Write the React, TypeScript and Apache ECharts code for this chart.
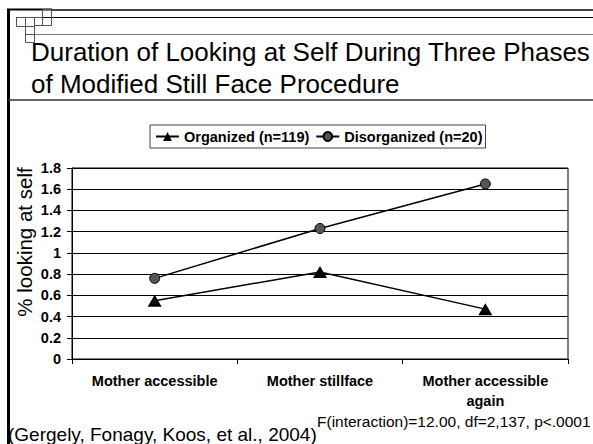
import React, { useEffect, useRef } from "react";
import * as echarts from "echarts";

const categories = ["Mother accessible", "Mother stillface", "Mother accessible\nagain"];
const organized = [0.55, 0.82, 0.47];
const disorganized = [0.76, 1.23, 1.65];
const seriesNames = ["Organized (n=119)", "Disorganized (n=20)"];
const titleLines = [
  "Duration of Looking at Self During Three Phases",
  "of Modified Still Face Procedure",
];
const yTitle = "% looking at self";
const citation = "(Gergely, Fonagy, Koos, et al., 2004)";
const stats = "F(interaction)=12.00, df=2,137, p<.0001";

const FONT = "'Liberation Sans', Arial, Helvetica, sans-serif";

export default function App() {
  const ref = useRef<HTMLDivElement>(null);
  useEffect(() => {
    document.body.style.margin = "0";
    const chart = echarts.init(ref.current!, null, { renderer: "svg" });
    const deco = { stroke: "#555", fill: "none", lineWidth: 1 };
    chart.setOption({
      animation: false,
      backgroundColor: "#fff",
      textStyle: { fontFamily: FONT },
      legend: {
        left: 150,
        top: 125,
        padding: [4, 3, 4, 5],
        itemGap: 6,
        itemWidth: 23,
        itemHeight: 11,
        borderColor: "#444",
        borderWidth: 1,
        textStyle: { fontFamily: FONT, fontWeight: "bold", fontSize: 14.5, color: "#000" },
        data: seriesNames,
      },
      grid: {
        left: 72,
        top: 168,
        width: 496,
        height: 191,
        show: true,
        borderColor: "#000",
        borderWidth: 1,
      },
      xAxis: {
        type: "category",
        data: categories,
        boundaryGap: true,
        axisLine: { lineStyle: { color: "#000", width: 1 } },
        axisTick: { show: true, length: 5, lineStyle: { color: "#000" } },
        axisLabel: {
          color: "#000",
          fontWeight: "bold",
          fontSize: 14.5,
          fontFamily: FONT,
          margin: 12,
          lineHeight: 20,
          interval: 0,
        },
      },
      yAxis: {
        type: "value",
        min: 0,
        max: 1.8,
        interval: 0.2,
        axisLine: { show: true, lineStyle: { color: "#000" } },
        axisTick: { show: true, length: 5, lineStyle: { color: "#000" } },
        splitLine: { lineStyle: { color: "#000", width: 1 } },
        axisLabel: {
          color: "#000",
          fontWeight: "bold",
          fontSize: 14.5,
          fontFamily: FONT,
          margin: 11,
          formatter: (v: number) => String(Math.round(v * 10) / 10),
        },
      },
      series: [
        {
          name: seriesNames[0],
          type: "line",
          data: organized,
          symbol: "triangle",
          symbolSize: [14, 12],
          itemStyle: { color: "#000" },
          lineStyle: { color: "#000", width: 1.5 },
        },
        {
          name: seriesNames[1],
          type: "line",
          data: disorganized,
          symbol: "circle",
          symbolSize: 10,
          itemStyle: { color: "#555", borderColor: "#000", borderWidth: 1 },
          lineStyle: { color: "#000", width: 1.5 },
        },
      ],
      graphic: [
        { type: "line", shape: { x1: 8.5, y1: 9, x2: 8.5, y2: 444 }, style: { stroke: "#000", lineWidth: 3 } },
        { type: "line", shape: { x1: 7, y1: 9.5, x2: 52, y2: 9.5 }, style: { stroke: "#000", lineWidth: 2 } },
        { type: "line", shape: { x1: 52, y1: 10, x2: 593, y2: 10 }, style: { stroke: "#444", lineWidth: 2 } },
        { type: "line", shape: { x1: 16, y1: 17.5, x2: 593, y2: 17.5 }, style: { stroke: "#000", lineWidth: 1 } },
        { type: "line", shape: { x1: 35, y1: 34.5, x2: 593, y2: 34.5 }, style: { stroke: "#777", lineWidth: 1 } },
        { type: "line", shape: { x1: 8, y1: 100, x2: 593, y2: 100 }, style: { stroke: "#333", lineWidth: 1.5 } },
        { type: "rect", shape: { x: 16.5, y: 17.5, width: 9, height: 9 }, style: deco },
        { type: "rect", shape: { x: 25.5, y: 17.5, width: 9, height: 17 }, style: deco },
        { type: "rect", shape: { x: 34.5, y: 17.5, width: 8, height: 8 }, style: deco },
        { type: "rect", shape: { x: 42.5, y: 9.5, width: 9, height: 16 }, style: deco },
        { type: "rect", shape: { x: 25.5, y: 26.5, width: 9, height: 16 }, style: deco },
        {
          type: "text",
          style: { text: titleLines[0], x: 31, y: 52, font: `26px ${FONT}`, fill: "#000", verticalAlign: "middle" },
        },
        {
          type: "text",
          style: { text: titleLines[1], x: 31, y: 84, font: `26px ${FONT}`, fill: "#000", verticalAlign: "middle" },
        },
        {
          type: "text",
          x: 24,
          y: 242,
          rotation: Math.PI / 2,
          style: { text: yTitle, x: 0, y: 0, font: `20.5px ${FONT}`, fill: "#000", align: "center", verticalAlign: "middle" },
        },
        {
          type: "text",
          style: { text: citation, x: 8, y: 434, font: `19px ${FONT}`, fill: "#000", verticalAlign: "middle" },
        },
        {
          type: "text",
          style: { text: stats, x: 317, y: 421, font: `15.5px ${FONT}`, fill: "#000", verticalAlign: "middle" },
        },
      ],
    });
    return () => chart.dispose();
  }, []);
  return <div ref={ref} style={{ width: 593, height: 444 }} />;
}
